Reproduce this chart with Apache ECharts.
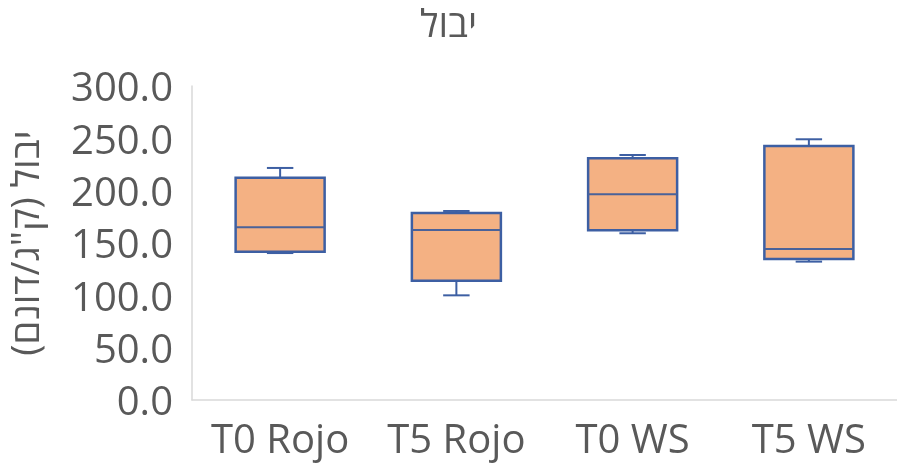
<!DOCTYPE html>
<html>
<head>
<meta charset="utf-8">
<script src="https://cdn.jsdelivr.net/npm/echarts@6/dist/echarts.min.js"></script>
<style>
html,body{margin:0;padding:0;background:#fff;}
#chart{width:897px;height:472px;}
</style>
</head>
<body>
<div id="chart"></div>
<script>
const categories = ['T0 Rojo', 'T5 Rojo', 'T0 WS', 'T5 WS'];
const mins    = [140.4, 100.0, 159.3, 132.2];
const q1s     = [141.7, 114.0, 162.1, 134.7];
const medians = [165.0, 162.4, 196.5, 144.3];
const q3s     = [212.4, 178.7, 230.9, 242.7];
const maxs    = [221.7, 180.6, 234.1, 249.1];
const yTicks  = [0, 50, 100, 150, 200, 250, 300];

const titleText = 'יבול';
const yName = 'יבול (ק"ג/דונם)\u200F';

const FONT = "'Open Sans', 'DejaVu Sans', sans-serif";
const TXT = '#595959';
const FILL = '#F4B183';
const EDGE = '#3D5FA3';

const data = categories.map((c, i) => [i, mins[i], q1s[i], medians[i], q3s[i], maxs[i]]);

const chart = echarts.init(document.getElementById('chart'), null, {renderer: 'canvas'});
chart.setOption({
  animation: false,
  backgroundColor: '#ffffff',
  title: {
    text: titleText,
    left: 'center',
    top: 2,
    textStyle: {fontFamily: FONT, fontSize: 38, fontWeight: 'normal', color: TXT}
  },
  grid: {left: 192, right: -7, top: 86, bottom: 72, containLabel: false},
  xAxis: {
    type: 'category',
    data: categories,
    axisLine: {show: true, lineStyle: {color: '#D9D9D9', width: 1.5}},
    axisTick: {show: false},
    axisLabel: {fontFamily: FONT, fontSize: 40, color: TXT, margin: 22, interval: 0},
    splitLine: {show: false}
  },
  yAxis: {
    type: 'value',
    min: yTicks[0],
    max: yTicks[yTicks.length - 1],
    interval: 50,
    name: yName,
    nameLocation: 'middle',
    nameGap: 145,
    nameTextStyle: {fontFamily: FONT, fontSize: 38, color: TXT},
    axisLine: {show: true, lineStyle: {color: '#D9D9D9', width: 1.5}},
    axisTick: {show: false},
    axisLabel: {fontFamily: FONT, fontSize: 40, color: TXT, margin: 19,
      formatter: v => '{a|' + v.toFixed(1) + '}',
      rich: {a: {fontFamily: FONT, fontSize: 40, color: TXT, padding: [8, 0, 0, 0]}}},
    splitLine: {show: false}
  },
  series: [{
    type: 'custom',
    data: data,
    encode: {x: 0, y: [1, 2, 3, 4, 5]},
    renderItem: function (params, api) {
      const idx = api.value(0);
      const band = api.size([1, 0])[0];
      const bw = band * 0.505;
      const cw = band * 0.15;
      const pMin = api.coord([idx, api.value(1)]);
      const pQ1 = api.coord([idx, api.value(2)]);
      const pMed = api.coord([idx, api.value(3)]);
      const pQ3 = api.coord([idx, api.value(4)]);
      const pMax = api.coord([idx, api.value(5)]);
      const x = pMin[0];
      const lineStyle = {stroke: EDGE, lineWidth: 2};
      return {
        type: 'group',
        children: [
          {type: 'line', shape: {x1: x, y1: pQ3[1], x2: x, y2: pMax[1]}, style: lineStyle},
          {type: 'line', shape: {x1: x - cw / 2, y1: pMax[1], x2: x + cw / 2, y2: pMax[1]}, style: lineStyle},
          {type: 'line', shape: {x1: x, y1: pQ1[1], x2: x, y2: pMin[1]}, style: lineStyle},
          {type: 'line', shape: {x1: x - cw / 2, y1: pMin[1], x2: x + cw / 2, y2: pMin[1]}, style: lineStyle},
          {type: 'rect', shape: {x: x - bw / 2, y: pQ3[1], width: bw, height: pQ1[1] - pQ3[1]},
            style: {fill: FILL, stroke: EDGE, lineWidth: 2.5}},
          {type: 'line', shape: {x1: x - bw / 2, y1: pMed[1], x2: x + bw / 2, y2: pMed[1]},
            style: {stroke: '#4A6299', lineWidth: 2}}
        ]
      };
    }
  }]
});
</script>
</body>
</html>
